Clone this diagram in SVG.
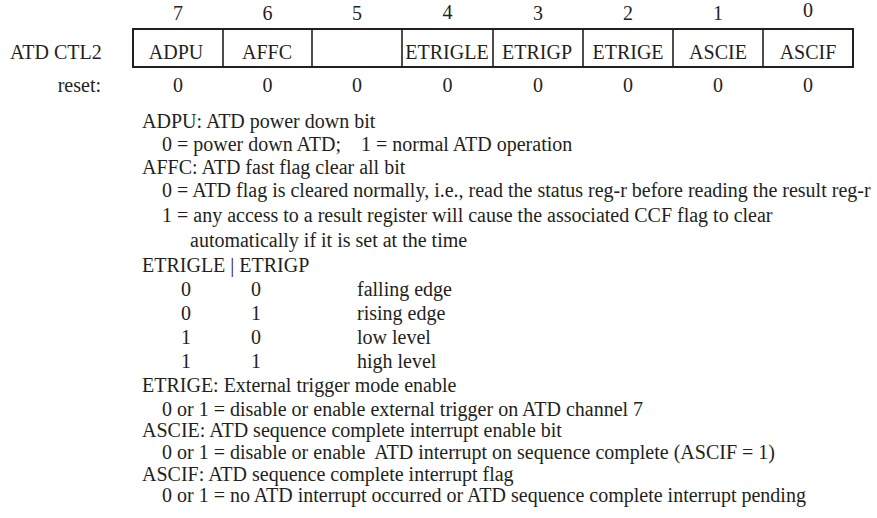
<svg xmlns="http://www.w3.org/2000/svg" width="877" height="518" viewBox="0 0 877 518">
<style>
text{font-family:"Liberation Serif","Times New Roman",serif;font-size:20px;fill:#231f20}
.c{text-anchor:middle}
.r{text-anchor:end}
.box{fill:#fff;stroke:#231f20;stroke-width:2}
.div{stroke:#231f20;stroke-width:1.6}
</style>
<rect width="877" height="518" fill="#fff"/>
<g id="bitnumbers">
<text class="c" x="178" y="20">7</text>
<text class="c" x="267.5" y="20">6</text>
<text class="c" x="357" y="20">5</text>
<text class="c" x="447.5" y="19">4</text>
<text class="c" x="538" y="20">3</text>
<text class="c" x="628" y="20">2</text>
<text class="c" x="718" y="20">1</text>
<text class="c" x="808" y="17">0</text>
</g>
<g id="register">
<text x="10" y="59">ATD CTL2</text>
<rect class="box" x="133" y="29" width="720" height="38"/>
<line class="div" x1="223" y1="29" x2="223" y2="67"/>
<line class="div" x1="312" y1="29" x2="312" y2="67"/>
<line class="div" x1="402" y1="29" x2="402" y2="67"/>
<line class="div" x1="493" y1="29" x2="493" y2="67"/>
<line class="div" x1="583" y1="29" x2="583" y2="67"/>
<line class="div" x1="673" y1="29" x2="673" y2="67"/>
<line class="div" x1="763" y1="29" x2="763" y2="67"/>
<text class="c" x="176" y="59">ADPU</text>
<text class="c" x="267" y="59">AFFC</text>
<text class="c" x="447" y="59">ETRIGLE</text>
<text class="c" x="537" y="59">ETRIGP</text>
<text class="c" x="628" y="59">ETRIGE</text>
<text class="c" x="718" y="59">ASCIE</text>
<text class="c" x="808" y="59">ASCIF</text>
</g>
<g id="reset">
<text class="r" x="101" y="92">reset:</text>
<text class="c" x="178" y="92">0</text>
<text class="c" x="267.5" y="92">0</text>
<text class="c" x="357" y="92">0</text>
<text class="c" x="447.5" y="92">0</text>
<text class="c" x="538" y="92">0</text>
<text class="c" x="628" y="92">0</text>
<text class="c" x="718" y="92">0</text>
<text class="c" x="808" y="92">0</text>
</g>
<g id="descriptions">
<text x="142" y="128">ADPU: ATD power down bit</text>
<text x="162" y="151">0 = power down ATD;<tspan x="361">1 = normal ATD operation</tspan></text>
<text x="142" y="174">AFFC: ATD fast flag clear all bit</text>
<text x="162" y="197">0 = ATD flag is cleared normally, i.e., read the status reg-r before reading the result reg-r</text>
<text x="162" y="222">1 = any access to a result register will cause the associated CCF flag to clear</text>
<text x="190" y="247">automatically if it is set at the time</text>
<text x="142" y="272">ETRIGLE | ETRIGP</text>
<text class="c" x="186" y="296">0</text><text class="c" x="256" y="296">0</text><text x="357" y="296">falling edge</text>
<text class="c" x="186" y="320">0</text><text class="c" x="256" y="320">1</text><text x="357" y="320">rising edge</text>
<text class="c" x="186" y="344">1</text><text class="c" x="256" y="344">0</text><text x="357" y="344">low level</text>
<text class="c" x="186" y="368">1</text><text class="c" x="256" y="368">1</text><text x="357" y="368">high level</text>
<text x="142" y="392">ETRIGE: External trigger mode enable</text>
<text x="162" y="416">0 or 1 = disable or enable external trigger on ATD channel 7</text>
<text x="142" y="437">ASCIE: ATD sequence complete interrupt enable bit</text>
<text x="162" y="459" xml:space="preserve">0 or 1 = disable or enable  ATD interrupt on sequence complete (ASCIF = 1)</text>
<text x="142" y="481">ASCIF: ATD sequence complete interrupt flag</text>
<text x="162" y="502">0 or 1 = no ATD interrupt occurred or ATD sequence complete interrupt pending</text>
</g>
</svg>
